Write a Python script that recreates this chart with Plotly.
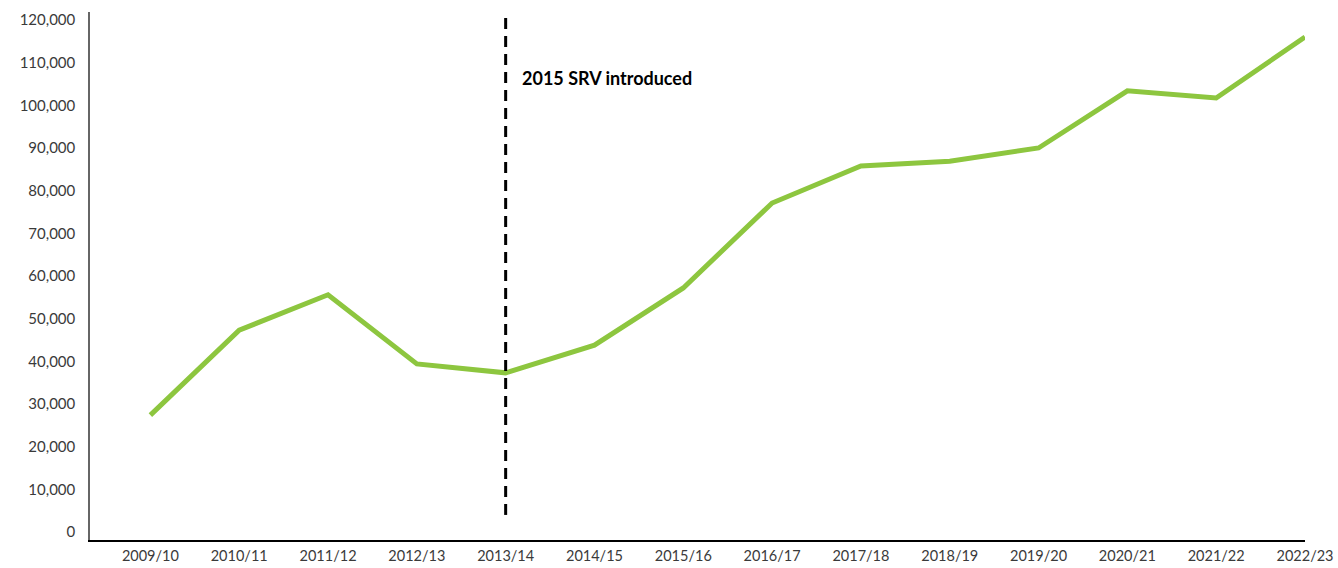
import plotly.graph_objects as go

years = ["2009/10", "2010/11", "2011/12", "2012/13", "2013/14", "2014/15", "2015/16",
         "2016/17", "2017/18", "2018/19", "2019/20", "2020/21", "2021/22", "2022/23"]
values = [27400, 47300, 55600, 39400, 37300, 43800, 57200,
          77100, 85800, 86900, 90000, 103400, 101700, 116000]
y_ticks = list(range(0, 120001, 10000))

srv_year = "2013/14"
srv_label = "2015 SRV introduced"

fig = go.Figure()

fig.add_trace(
    go.Scatter(
        x=years,
        y=values,
        mode="lines",
        line=dict(color="#8DC63F", width=5),
        showlegend=False,
    )
)

# Vertical marker for the SRV
fig.add_shape(
    type="line",
    xref="x",
    yref="y",
    x0=srv_year,
    x1=srv_year,
    y0=4000,
    y1=121800,
    line=dict(color="black", width=3, dash="11px,7px"),
)

fig.add_annotation(
    x=srv_year,
    y=106500,
    xref="x",
    yref="y",
    text="<b>" + srv_label + "</b>",
    showarrow=False,
    xanchor="left",
    xshift=14,
    font=dict(family="Lato", size=18, color="black"),
)

fig.update_layout(
    width=1338,
    height=568,
    margin=dict(l=90, r=33, t=12, b=28),
    plot_bgcolor="white",
    paper_bgcolor="white",
    font=dict(family="Lato", size=15, color="#333333"),
)

fig.update_xaxes(
    type="category",
    range=[-0.68, 13],
    automargin=False,
    showline=True,
    linecolor="black",
    linewidth=1.5,
    showgrid=False,
    ticks="outside",
    ticklen=2,
    tickcolor="white",
    tickfont=dict(family="Lato", size=14.5, color="#3a3a3a"),
)

fig.update_yaxes(
    range=[-1875, 121870],
    tickvals=y_ticks,
    tickformat=",d",
    automargin=False,
    showline=True,
    linecolor="#666666",
    linewidth=1.5,
    showgrid=False,
    zeroline=False,
    ticks="outside",
    ticklen=10,
    tickcolor="white",
    tickfont=dict(family="Lato", size=15, color="#3a3a3a"),
)

# drop the default body margin so the figure fills the window exactly
fig.write_html(
    "out.html",
    config={"displayModeBar": False},
    post_script="document.body.style.margin='0';document.body.style.overflow='hidden';",
)
